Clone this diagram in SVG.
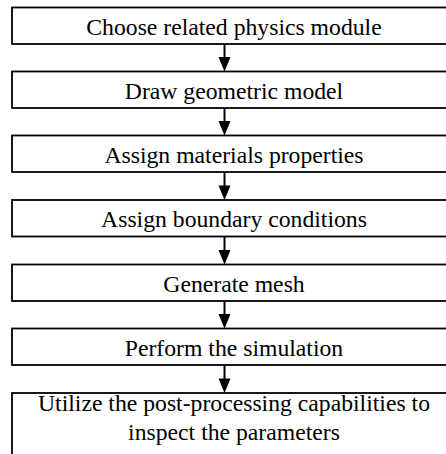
<svg xmlns="http://www.w3.org/2000/svg" width="446" height="454" viewBox="0 0 446 454">
<style>
.box{fill:#fff;stroke:#000;stroke-width:1.8}
.t{font-family:"Liberation Serif","Times New Roman",serif;font-size:23.7px;fill:#000;text-anchor:middle}
.sh{stroke:#000;stroke-width:2;fill:none}
.hd{fill:#000}
</style>
<rect width="446" height="454" fill="#fff"/>
<g id="connectors">
<line class="sh" x1="224.5" y1="44" x2="224.5" y2="58"/><polygon class="hd" points="218.5,57 230.5,57 224.5,71.5"/>
<line class="sh" x1="224.5" y1="108" x2="224.5" y2="122"/><polygon class="hd" points="218.5,121 230.5,121 224.5,135.5"/>
<line class="sh" x1="224.5" y1="172" x2="224.5" y2="186.5"/><polygon class="hd" points="218.5,185.5 230.5,185.5 224.5,200"/>
<line class="sh" x1="224.5" y1="236.5" x2="224.5" y2="251"/><polygon class="hd" points="218.5,250 230.5,250 224.5,264.5"/>
<line class="sh" x1="224.5" y1="301" x2="224.5" y2="315"/><polygon class="hd" points="218.5,314 230.5,314 224.5,328.5"/>
<line class="sh" x1="224.5" y1="365" x2="224.5" y2="379.5"/><polygon class="hd" points="218.5,378.5 230.5,378.5 224.5,393"/>
</g>
<g id="n1"><rect class="box" x="12" y="7.5" width="444" height="36.5"/><text class="t" x="234" y="34.75">Choose related physics module</text></g>
<g id="n2"><rect class="box" x="12" y="71.5" width="444" height="36.5"/><text class="t" x="234" y="98.75">Draw geometric model</text></g>
<g id="n3"><rect class="box" x="12" y="135.5" width="444" height="36.5"/><text class="t" x="234" y="162.75">Assign materials properties</text></g>
<g id="n4"><rect class="box" x="12" y="200" width="444" height="36.5"/><text class="t" x="234" y="227.25">Assign boundary conditions</text></g>
<g id="n5"><rect class="box" x="12" y="264.5" width="444" height="36.5"/><text class="t" x="234" y="291.75">Generate mesh</text></g>
<g id="n6"><rect class="box" x="12" y="328.5" width="444" height="36.5"/><text class="t" x="234" y="355.75">Perform the simulation</text></g>
<g id="n7"><rect class="box" x="12" y="393" width="444" height="70"/><text class="t" x="234" y="411">Utilize the post-processing capabilities to</text><text class="t" x="234" y="440">inspect the parameters</text></g>
</svg>
